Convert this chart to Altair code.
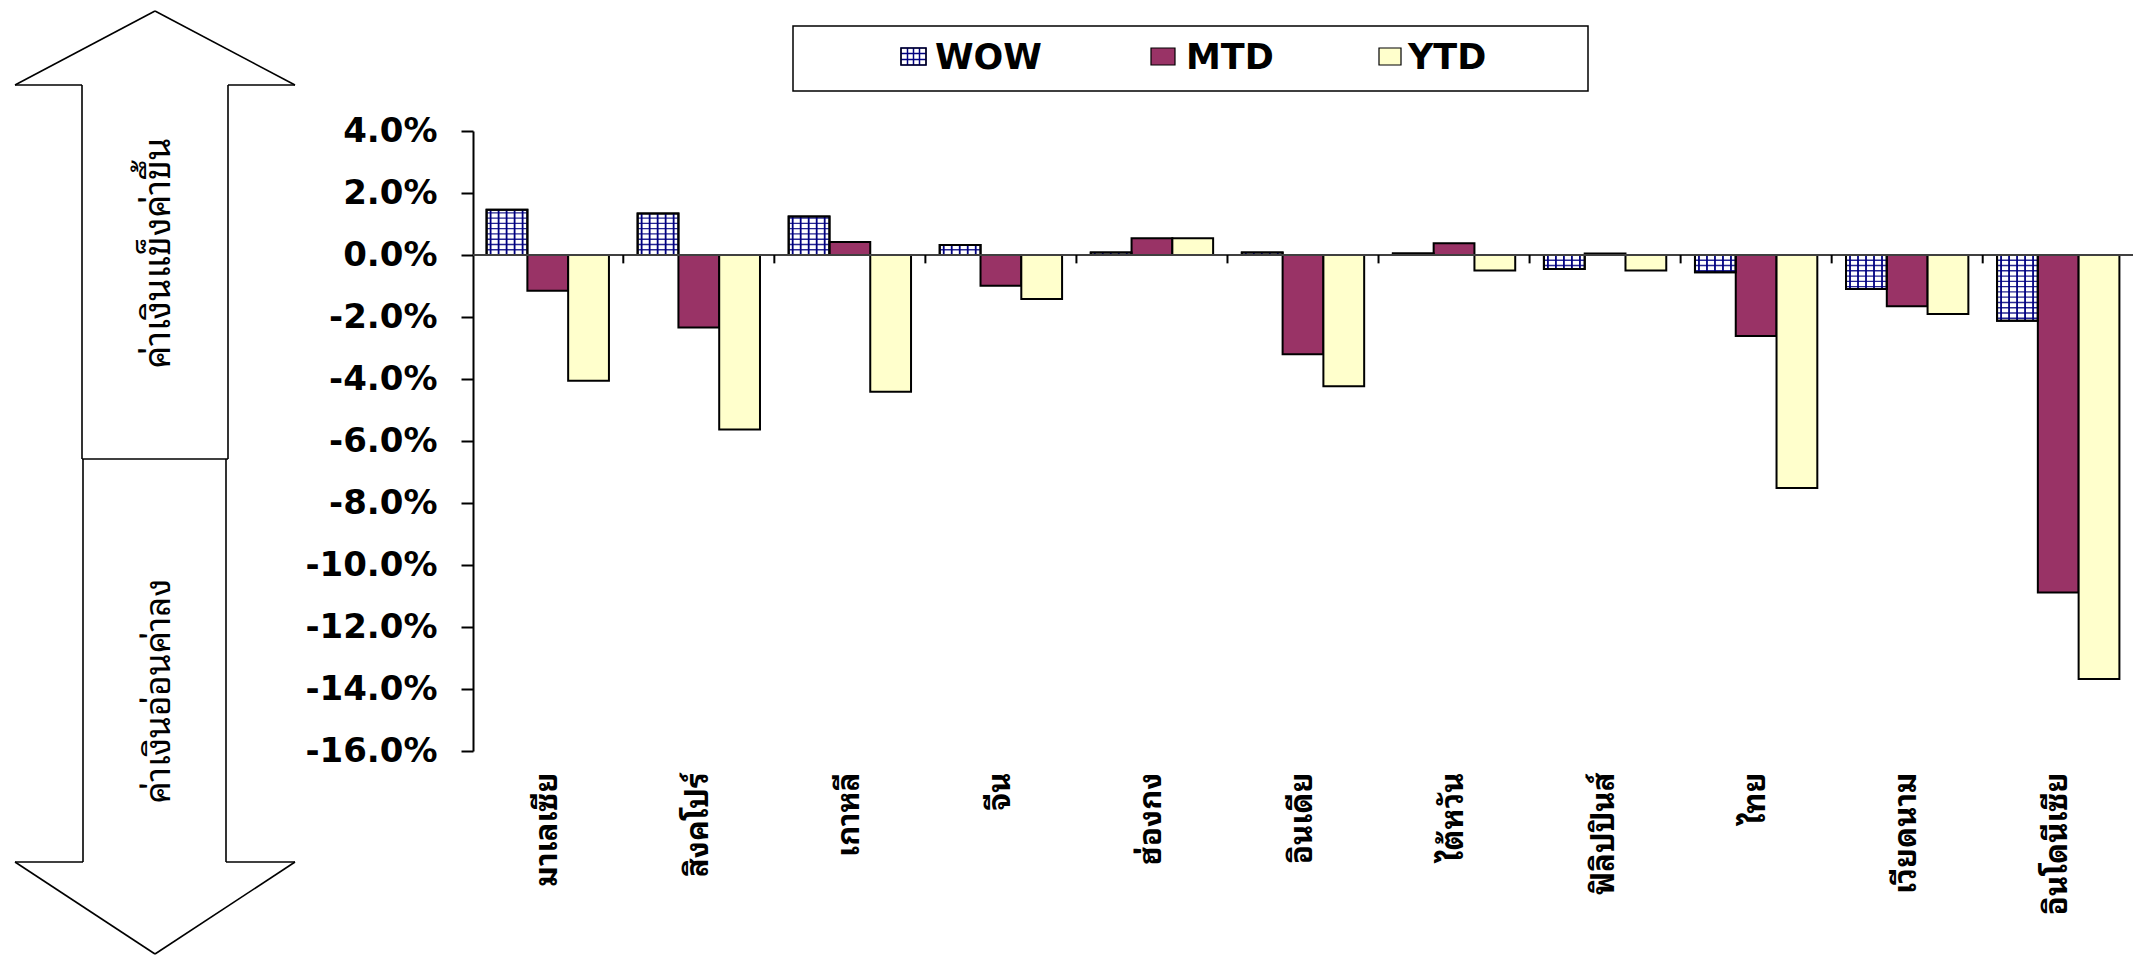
import altair as alt
import pandas as pd

# ---------------- data ----------------
countries = ["มาเลเซีย", "สิงคโปร์", "เกาหลี", "จีน", "ฮ่องกง", "อินเดีย",
             "ไต้หวัน", "ฟิลิปปินส์", "ไทย", "เวียดนาม", "อินโดนีเซีย"]
series = ["WOW", "MTD", "YTD"]
wow = [1.46, 1.34, 1.24, 0.32, 0.08, 0.08, 0.05, -0.45, -0.56, -1.10, -2.12]
mtd = [-1.15, -2.34, 0.42, -0.99, 0.54, -3.20, 0.38, 0.05, -2.61, -1.65, -10.89]
ytd = [-4.06, -5.63, -4.41, -1.42, 0.54, -4.23, -0.50, -0.50, -7.52, -1.90, -13.68]
y_ticks = [4, 2, 0, -2, -4, -6, -8, -10, -12, -14, -16]
fill_colors = ["#FFFFFF", "#993366", "#FFFFCC"]
up_text = "ค่าเงินแข็งค่าขึ้น"
down_text = "ค่าเงินอ่อนค่าลง"

# ---------------- layout ----------------
W, H = 1660, 620
PI, PO = 0.19, 0.09
step = W / (len(countries) - PI + 2 * PO)
band = step * (1 - PI)
sub = band / 3
NAVY = "#000080"
THAI = "Noto Sans Thai Looped, Noto Sans Thai, Tahoma, DejaVu Sans, sans-serif"
NUMF = "DejaVu Sans"

rows = []
for i, c in enumerate(countries):
    for s, vals in zip(series, [wow, mtd, ytd]):
        rows.append({"country": c, "series": s, "v": vals[i]})
df = pd.DataFrame(rows)
df_wow = df[df["series"] == "WOW"]

xscale = alt.Scale(domain=countries, paddingInner=PI, paddingOuter=PO)
offscale = alt.Scale(domain=series, paddingInner=0, paddingOuter=0)
yscale = alt.Scale(domain=[-16, 4], nice=False, zero=False)

x_axis = alt.Axis(title=None, labelAngle=-90, labelFont=THAI, labelFontSize=31,
                  labelFontWeight="bold", labelColor="black", labelPadding=21,
                  ticks=False, domain=False, labelLimit=400, labelAlign="right",
                  labelBaseline="middle", grid=False)
y_axis = alt.Axis(title=None, values=y_ticks, grid=False,
                  labelExpr="(datum.value < 0 ? '-' : '') + format(abs(datum.value), '.1f') + '%'",
                  labelFont=NUMF, labelFontSize=34, labelFontWeight="bold",
                  labelColor="black", labelPadding=24, tickSize=12, tickWidth=2,
                  tickColor="black", domainColor="black", domainWidth=2)

bars = alt.Chart(df).mark_bar(stroke="black", strokeWidth=2).encode(
    x=alt.X("country:N", scale=xscale, axis=x_axis),
    xOffset=alt.XOffset("series:N", scale=offscale),
    y=alt.Y("v:Q", scale=yscale, axis=y_axis, stack=None),
    fill=alt.Fill("series:N", scale=alt.Scale(domain=series, range=fill_colors), legend=None),
)

# grid pattern of the WOW bars
gv_rows = []
gh_rows = []
for i, c in enumerate(countries):
    for o in [4, 12, 20, 28, 36]:
        gv_rows.append({"country": c, "off": o, "v": wow[i]})
    k = 1
    while k * 0.17 < abs(wow[i]) - 0.03:
        gh_rows.append({"country": c, "off": sub / 2, "lv": k * 0.17 * (1 if wow[i] > 0 else -1)})
        k += 1

grid_v = alt.Chart(pd.DataFrame(gv_rows)).mark_rule(color=NAVY, strokeWidth=1.8).encode(
    x=alt.X("country:N", scale=xscale),
    xOffset=alt.XOffset("off:Q", scale=None),
    y=alt.Y("v:Q", scale=yscale),
    y2=alt.datum(0),
)
grid_h = alt.Chart(pd.DataFrame(gh_rows)).mark_tick(
    color=NAVY, thickness=1.4, size=sub - 1, orient="horizontal", opacity=0.85).encode(
    x=alt.X("country:N", scale=xscale),
    xOffset=alt.XOffset("off:Q", scale=None),
    y=alt.Y("lv:Q", scale=yscale),
)
wow_outline = alt.Chart(df_wow).mark_bar(fillOpacity=0, stroke="black", strokeWidth=2).encode(
    x=alt.X("country:N", scale=xscale),
    xOffset=alt.XOffset("series:N", scale=offscale),
    y=alt.Y("v:Q", scale=yscale, stack=None),
)

zero = alt.Chart(pd.DataFrame({"z": [0]})).mark_rule(color="#404040", strokeWidth=2).encode(
    y=alt.Y("z:Q", scale=yscale))

bdf = pd.DataFrame({"country": countries[1:], "a": 0.0, "b": -0.27})
bticks = alt.Chart(bdf).mark_rule(color="black", strokeWidth=2, xOffset=-PI * step / 2).encode(
    x=alt.X("country:N", scale=xscale, bandPosition=0),
    y=alt.Y("a:Q", scale=yscale),
    y2="b:Q",
)

dummy = pd.DataFrame({"d": [0]})


def seg(x1, y1, x2, y2, color="black", w=1.6):
    return alt.Chart(dummy).mark_rule(color=color, strokeWidth=w).encode(
        x=alt.value(x1), x2=alt.value(x2), y=alt.value(y1), y2=alt.value(y2))


def label(txt, x, y, size, weight="normal", angle=0, align="left", baseline="alphabetic", font=NUMF):
    return alt.Chart(dummy).mark_text(fontSize=size, fontWeight=weight, angle=angle,
                                      align=align, baseline=baseline, font=font,
                                      color="black").encode(
        x=alt.value(x), y=alt.value(y), text=alt.value(txt))


def box(x1, x2, y1, y2, fill, stroke="black", w=1.5):
    return alt.Chart(dummy).mark_rect(fill=fill, stroke=stroke, strokeWidth=w).encode(
        x=alt.value(x1), x2=alt.value(x2), y=alt.value(y1), y2=alt.value(y2))


# ---- double arrow (decoration, pixel coords relative to plot origin) ----
arrow = [
    seg(-318, -120, -458, -46), seg(-318, -120, -178, -46),
    seg(-458, -46, -391, -46), seg(-245, -46, -178, -46),
    seg(-391, -46, -391, 328), seg(-245, -46, -245, 328),
    seg(-391, 328, -245, 328),
    seg(-390, 328, -390, 731), seg(-247, 328, -247, 731),
    seg(-458, 731, -390, 731), seg(-247, 731, -178, 731),
    seg(-458, 731, -318, 823), seg(-178, 731, -318, 823),
    label(up_text, -314, 122, 36, angle=270, align="center", baseline="middle", font=THAI),
    label(down_text, -314, 560, 35, angle=270, align="center", baseline="middle", font=THAI),
]

# ---- legend ----
legend = [
    box(320, 1115, -105, -40, "white"),
    box(428, 453, -83, -66, "white", stroke=NAVY, w=1.5),
    seg(434.5, -83, 434.5, -66, NAVY, 1.5), seg(440.5, -83, 440.5, -66, NAVY, 1.5),
    seg(446.5, -83, 446.5, -66, NAVY, 1.5),
    seg(428, -77.5, 453, -77.5, NAVY, 1.5), seg(428, -71.5, 453, -71.5, NAVY, 1.5),
    box(428, 453, -83, -66, "transparent", stroke="black", w=1.2),
    box(678, 702, -83, -66, fill_colors[1], stroke="black", w=1.2),
    box(906, 928, -83, -66, fill_colors[2], stroke="black", w=1.2),
    label(series[0], 462, -62, 35, weight="bold"),
    label(series[1], 713, -62, 35, weight="bold"),
    label(series[2], 935, -62, 35, weight="bold"),
]

layers = [bars, grid_v, grid_h, wow_outline, zero, bticks] + arrow + legend

chart = alt.layer(*layers).resolve_scale(xOffset="independent").properties(
    width=W, height=H,
    background="white",
    autosize=alt.AutoSizeParams(type="none"),
    padding={"left": 465, "top": 123, "right": 0, "bottom": 205},
).configure_view(strokeWidth=0)

chart.save("out.html", embed_options={"renderer": "svg", "actions": False})
